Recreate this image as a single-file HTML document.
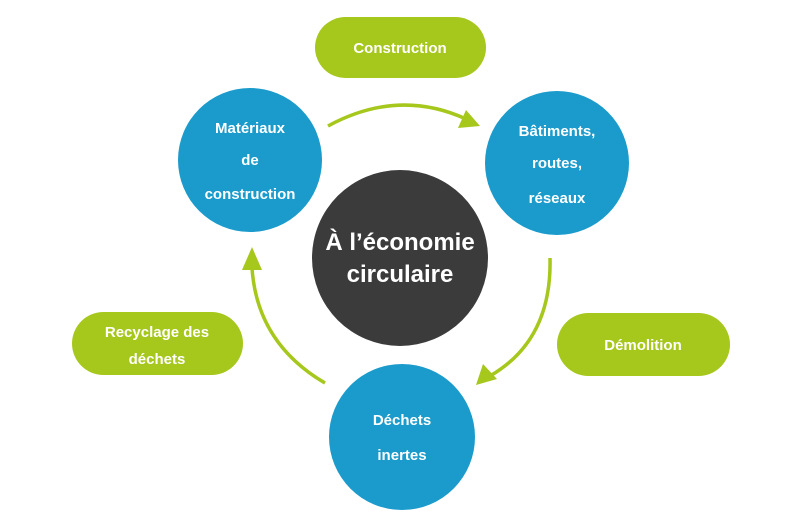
<!DOCTYPE html>
<html><head><meta charset="utf-8"><style>
html,body{margin:0;padding:0;background:#fff;}
body{width:800px;height:520px;overflow:hidden;}
svg text{font-family:"Liberation Sans",sans-serif;font-weight:bold;fill:#fff;text-anchor:middle;}
</style></head><body>
<svg width="800" height="520" viewBox="0 0 800 520">
<rect x="315" y="17" width="171" height="61" rx="30.5" fill="#a6c71c"/>
<rect x="72" y="312" width="171" height="63" rx="31.5" fill="#a6c71c"/>
<rect x="557" y="313" width="173" height="63" rx="31.5" fill="#a6c71c"/>
<text x="400" y="53" font-size="15">Construction</text>
<text x="157" y="337" font-size="15">Recyclage des</text>
<text x="157" y="364" font-size="15">déchets</text>
<text x="643" y="350" font-size="15">Démolition</text>

<g fill="none" stroke="#a6c71c" stroke-width="3.5">
<path d="M328 126 Q398 88 466 119"/>
<path d="M550 258 Q552 340 490 376"/>
<path d="M325 383 Q257 343 252 268"/>
</g>
<g fill="#a6c71c">
<polygon points="480,126 458,128 466,110"/>
<polygon points="476,385 483,364 497,379"/>
<polygon points="252,247 242,270 262,270"/>
</g>

<circle cx="250" cy="160" r="72" fill="#1a9bcc"/>
<circle cx="557" cy="163" r="72" fill="#1a9bcc"/>
<circle cx="402" cy="437" r="73" fill="#1a9bcc"/>
<circle cx="400" cy="258" r="88" fill="#3b3b3b"/>

<text x="250" y="133" font-size="15">Matériaux</text>
<text x="250" y="165" font-size="15">de</text>
<text x="250" y="199" font-size="15">construction</text>
<text x="557" y="136" font-size="15">Bâtiments,</text>
<text x="557" y="168" font-size="15">routes,</text>
<text x="557" y="203" font-size="15">réseaux</text>
<text x="402" y="425" font-size="15">Déchets</text>
<text x="402" y="460" font-size="15">inertes</text>
<text x="400" y="250" font-size="24">À l’économie</text>
<text x="400" y="282" font-size="24">circulaire</text>
</svg>
</body></html>
